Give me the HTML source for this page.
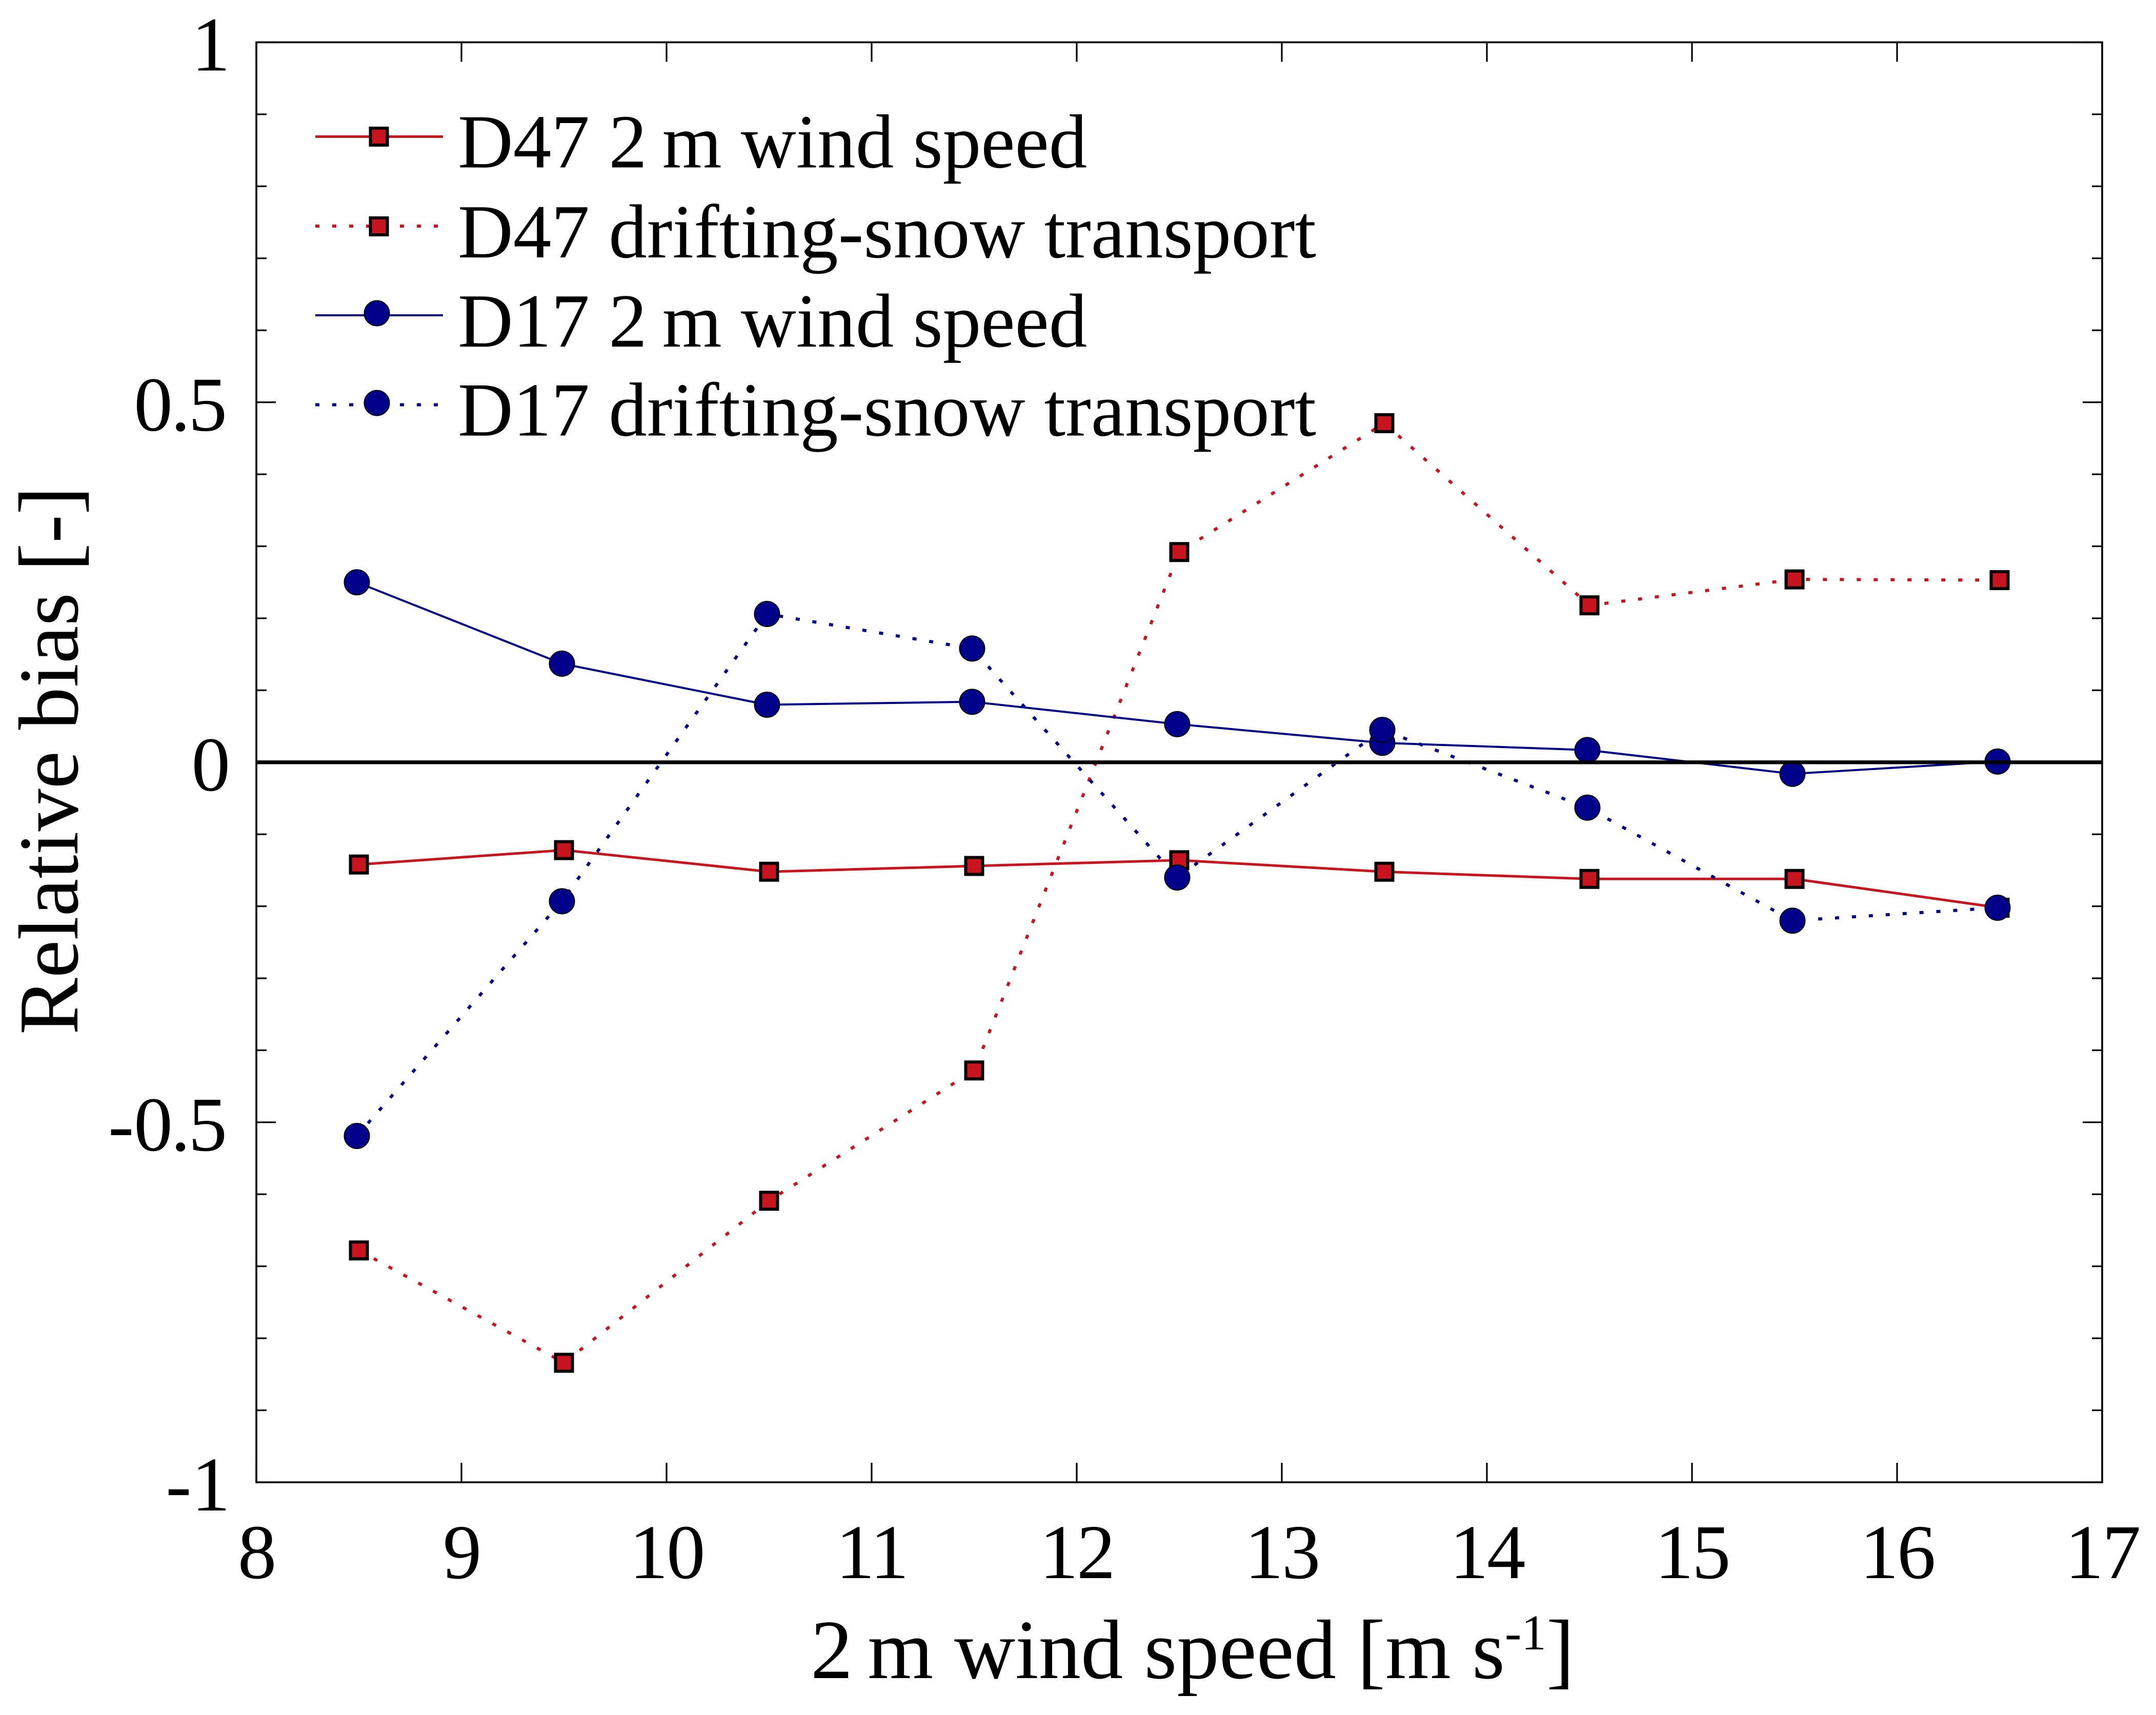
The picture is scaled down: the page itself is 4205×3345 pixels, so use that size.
<!DOCTYPE html>
<html lang="en">
<head>
<meta charset="utf-8">
<title>Relative bias vs 2 m wind speed</title>
<style>
html,body{margin:0;padding:0;background:#fff;}
svg{display:block;}
text{font-family:"Liberation Serif",serif;fill:#000;}
</style>
</head>
<body>
<svg id="chart" xmlns="http://www.w3.org/2000/svg" width="4205" height="3345" viewBox="0 0 4205 3345">
  <rect x="0" y="0" width="4205" height="3345" fill="#ffffff"/>
  <g id="series-layer"></g>
  <line id="zero-line" stroke="#000" stroke-width="7.4"/>
  <g id="axis-layer"></g>
  <g id="legend-layer"></g>
  <text x="1581" y="3273" font-size="164.5">2<tspan dx="29">m wind speed [m s</tspan><tspan dy="-56" font-size="97">-1</tspan><tspan dy="56">]</tspan></text>
  <text transform="translate(151,2018) rotate(-90)" x="0" y="0" font-size="166">Relative bias [-]</text>
</svg>
<script>
const windBinsD47 = [8.5, 9.5, 10.5, 11.5, 12.5, 13.5, 14.5, 15.5, 16.5];
const windBinsD17 = [8.49, 9.49, 10.49, 11.49, 12.49, 13.49, 14.49, 15.49, 16.49];
const d47Wind = [-0.142, -0.122, -0.152, -0.144, -0.136, -0.152, -0.162, -0.162, -0.202];
const d47Snow = [-0.678, -0.834, -0.609, -0.428, 0.292, 0.471, 0.218, 0.254, 0.253];
const d17Wind = [0.25, 0.137, 0.08, 0.084, 0.053, 0.027, 0.017, -0.016, 0.001];
const d17Snow = [-0.519, -0.193, 0.206, 0.158, -0.16, 0.045, -0.063, -0.22, -0.202];
const xTickValues = [8, 9, 10, 11, 12, 13, 14, 15, 16, 17];
const yMajorTicks = [1, 0.5, 0, -0.5, -1];
const yMinorTicks = [0.9, 0.8, 0.7, 0.6, 0.4, 0.3, 0.2, 0.1, -0.1, -0.2, -0.3, -0.4, -0.6, -0.7, -0.8, -0.9];
const legendLabels = ['D47 2\u2009m wind speed', 'D47 drifting-snow transport', 'D17 2\u2009m wind speed', 'D17 drifting-snow transport'];

const NS = 'http://www.w3.org/2000/svg';
const RED = '#c8141e';
const BLUE = '#00008b';
const xAxis = v => 500 + 400 * (v - 8);
const yAxis = v => 1486.8 - 1404.3 * v;

function mk(tag, attrs, parent) {
  const el = document.createElementNS(NS, tag);
  for (const k in attrs) el.setAttribute(k, attrs[k]);
  parent.appendChild(el);
  return el;
}

const seriesLayer = document.getElementById('series-layer');
const axisLayer = document.getElementById('axis-layer');
const legendLayer = document.getElementById('legend-layer');

function drawSquare(cx, cy, parent) {
  const el = mk('rect', { x: cx - 16.5, y: cy - 16.5, width: 33, height: 33, fill: RED, stroke: '#000', 'stroke-width': 6 }, parent);
  
  
}
function drawCircle(cx, cy, parent) {
  const el = mk('circle', { cx: cx, cy: cy, r: 24.5, fill: BLUE, stroke: '#000', 'stroke-width': 2 }, parent);
  
  
}
function drawSeries(name, xs, ys, color, width, dash, marker) {
  const g = mk('g', {}, seriesLayer);
  
  
  const pts = ys.map((v, i) => xAxis(xs[i]).toFixed(1) + ',' + yAxis(v).toFixed(1)).join(' ');
  const attrs = { points: pts, fill: 'none', stroke: color, 'stroke-width': width, 'stroke-linejoin': 'round' };
  if (dash) attrs['stroke-dasharray'] = dash;
  const line = mk('polyline', attrs, g);
  
  
  ys.forEach((v, i) => marker(xAxis(xs[i]), yAxis(v), g));
}

drawSeries('series-d47-wind-speed', windBinsD47, d47Wind, RED, 5, null, drawSquare);
drawSeries('series-d47-snow-transport', windBinsD47, d47Snow, RED, 6, '8 25', drawSquare);
drawSeries('series-d17-wind-speed', windBinsD17, d17Wind, BLUE, 4, null, drawCircle);
drawSeries('series-d17-snow-transport', windBinsD17, d17Snow, BLUE, 6, '8 25', drawCircle);

const zero = document.getElementById('zero-line');
zero.setAttribute('x1', xAxis(8));
zero.setAttribute('x2', xAxis(17));
zero.setAttribute('y1', yAxis(0));
zero.setAttribute('y2', yAxis(0));

const frame = mk('rect', { x: xAxis(8), y: yAxis(1), width: xAxis(17) - xAxis(8), height: yAxis(-1) - yAxis(1), fill: 'none', stroke: '#000', 'stroke-width': 3.6 }, axisLayer);



function tick(x1, y1, x2, y2, name) {
  const t = mk('line', { x1: x1, y1: y1, x2: x2, y2: y2, stroke: '#000', 'stroke-width': 3.2 }, axisLayer);
  
  
}

xTickValues.forEach(v => {
  tick(xAxis(v), yAxis(-1), xAxis(v), yAxis(-1) - 38, 'x-tick-bottom');
  tick(xAxis(v), yAxis(1), xAxis(v), yAxis(1) + 38, 'x-tick-top');
  const label = mk('text', { x: xAxis(v), y: 3078, 'font-size': 151, 'text-anchor': 'middle', 'letter-spacing': -3 }, axisLayer);
  
  
  label.textContent = String(v);
});
yMajorTicks.forEach(v => {
  tick(xAxis(8), yAxis(v), xAxis(8) + 38, yAxis(v), 'y-major-tick-left');
  tick(xAxis(17), yAxis(v), xAxis(17) - 38, yAxis(v), 'y-major-tick-right');
  const text = String(v);
  const dot = text.indexOf('.');
  const label = mk('text', { x: dot < 0 ? 449 : 443, y: yAxis(v) + 55, 'font-size': 151, 'text-anchor': 'end' }, axisLayer);
  
  
  if (dot < 0) {
    label.textContent = text;
  } else {
    label.appendChild(document.createTextNode(text.slice(0, dot)));
    mk('tspan', { dx: -3.5 }, label).textContent = '.';
    mk('tspan', { dx: -3.5 }, label).textContent = text.slice(dot + 1);
  }
});
yMinorTicks.forEach(v => {
  tick(xAxis(8), yAxis(v), xAxis(8) + 20, yAxis(v), 'y-minor-tick-left');
  tick(xAxis(17), yAxis(v), xAxis(17) - 20, yAxis(v), 'y-minor-tick-right');
});

const legendStyles = [
  { color: RED, width: 5, dash: null, marker: drawSquare, mx: 739, my: 266.5 },
  { color: RED, width: 6, dash: '8 25', marker: drawSquare, mx: 739, my: 441.5 },
  { color: BLUE, width: 4, dash: null, marker: drawCircle, mx: 735, my: 611 },
  { color: BLUE, width: 6, dash: '8 25', marker: drawCircle, mx: 735, my: 786 }
];
const legendLineY = [266.5, 441, 615, 789.5];
const legendTextY = [326.5, 502, 676, 849.5];
legendLabels.forEach((name, i) => {
  const s = legendStyles[i];
  const entry = mk('g', {}, legendLayer);
  
  
  const attrs = { x1: 615, x2: 864, y1: legendLineY[i], y2: legendLineY[i], stroke: s.color, 'stroke-width': s.width };
  if (s.dash) attrs['stroke-dasharray'] = s.dash;
  const line = mk('line', attrs, entry);
  
  
  s.marker(s.mx, s.my, entry);
  const label = mk('text', { x: 893, y: legendTextY[i], 'font-size': 149.2 }, entry);
  
  
  label.textContent = name;
});
</script>
</body>
</html>
